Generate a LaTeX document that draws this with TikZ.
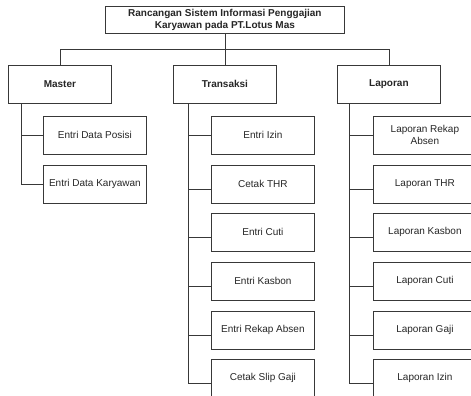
\documentclass[tikz,border=0pt]{standalone}
\usepackage{fontspec}
\setmainfont{Liberation Sans}
\begin{document}
\begin{tikzpicture}[x=1pt,y=-1pt,
  line/.style={draw=black!78,line width=0.8pt},
  box/.style={line,rectangle,inner sep=0pt,align=center,text=black!85,
    minimum width=103pt,minimum height=38pt,anchor=north west,
    font=\fontsize{10}{12}\selectfont},
  headbox/.style={box,font=\fontsize{10}{11.5}\selectfont\bfseries},
  kid/.style={box}]
\useasboundingbox (0,0) rectangle (471,396);
\fill[white] (0,0) rectangle (471,396);

% root
\node[headbox,minimum width=239pt,minimum height=27pt] (root) at (105,6)
  {Rancangan Sistem Informasi Penggajian\\Karyawan pada PT.Lotus Mas};

% second level
\node[headbox] (master) at (8,65) {Master};
\node[headbox] (trans) at (173,65) {Transaksi};
\node[headbox] (lap) at (337,65) {Laporan};

\coordinate (bus) at (0,49);
\draw[line] (root.south) -- (root.south |- bus);
\draw[line] (master.north) |- (lap.north |- bus) -- (lap.north);
\draw[line] (trans.north) -- (trans.north |- bus);

% Master children
\node[kid] (m1) at (43,116) {Entri Data Posisi};
\node[kid] (m2) at (43,165) {Entri Data Karyawan};
\coordinate (mt) at ([xshift=13pt]master.south west);
\draw[line] (mt) |- (m2.west);
\draw[line] (mt |- m1.west) -- (m1.west);

% Transaksi children
\node[kid] (t1) at (211,116) {Entri Izin};
\node[kid] (t2) at (211,165) {Cetak THR};
\node[kid] (t3) at (211,213) {Entri Cuti};
\node[kid] (t4) at (211,262) {Entri Kasbon};
\node[kid] (t5) at (211,311) {Entri Rekap Absen};
\node[kid] (t6) at (211,359) {Cetak Slip Gaji};
\coordinate (tt) at ([xshift=15pt]trans.south west);
\foreach \k in {t2,t3,t4,t5,t6}
  \coordinate (b\k) at ([yshift=-5pt]\k.west);
\draw[line] (tt) |- (bt6);
\draw[line] (tt |- t1.west) -- (t1.west);
\foreach \k in {t2,t3,t4,t5}
  \draw[line] (tt |- b\k) -- (b\k);

% Laporan children
\node[kid] (l1) at (373,116) {Laporan Rekap\\Absen};
\node[kid] (l2) at (373,165) {Laporan THR};
\node[kid] (l3) at (373,213) {Laporan Kasbon};
\node[kid] (l4) at (373,262) {Laporan Cuti};
\node[kid] (l5) at (373,311) {Laporan Gaji};
\node[kid] (l6) at (373,359) {Laporan Izin};
\coordinate (lt) at ([xshift=12pt]lap.south west);
\foreach \k in {l2,l3,l4,l5,l6}
  \coordinate (b\k) at ([yshift=-5pt]\k.west);
\draw[line] (lt) |- (bl6);
\draw[line] (lt |- l1.west) -- (l1.west);
\foreach \k in {l2,l3,l4,l5}
  \draw[line] (lt |- b\k) -- (b\k);
\end{tikzpicture}
\end{document}
